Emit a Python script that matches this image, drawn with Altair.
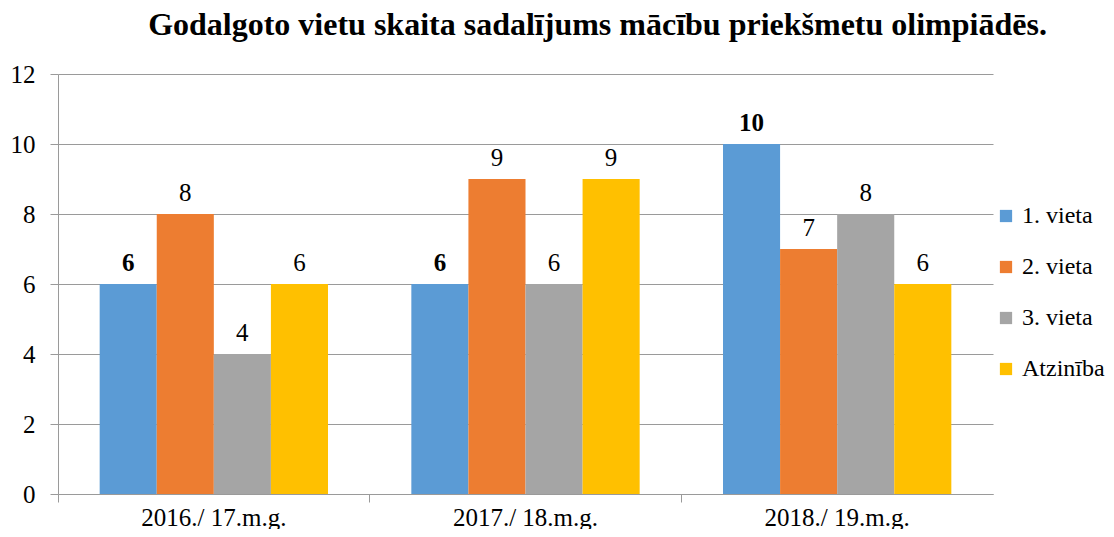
import altair as alt
import pandas as pd

years = ["2016./ 17.m.g.", "2017./ 18.m.g.", "2018./ 19.m.g."]
series = ["1. vieta", "2. vieta", "3. vieta", "Atzinība"]
v1 = [6, 6, 10]
v2 = [8, 9, 7]
v3 = [4, 6, 8]
v4 = [6, 9, 6]
colors = ["#5B9BD5", "#ED7D31", "#A5A5A5", "#FFC000"]

rows = []
for s, vals in zip(series, [v1, v2, v3, v4]):
    for y, v in zip(years, vals):
        rows.append({"year": y, "series": s, "value": v})
df = pd.DataFrame(rows)

FONT = "Times New Roman, Liberation Serif, DejaVu Serif, serif"
GRID = "#9a9a9a"

x = alt.X("year:N", sort=years, title=None,
          scale=alt.Scale(paddingInner=0, paddingOuter=0),
          axis=alt.Axis(labelAngle=0, labelFont=FONT, labelFontSize=25, labelColor="#000000",
                        bandPosition=0, tickColor=GRID, tickSize=8, domainColor=GRID,
                        labelPadding=3, grid=False))
xo = alt.XOffset("series:N", sort=series,
                 scale=alt.Scale(paddingOuter=0.73, paddingInner=0))
y = alt.Y("value:Q", title=None,
          scale=alt.Scale(domain=[0, 12]),
          axis=alt.Axis(values=[0, 2, 4, 6, 8, 10, 12], labelFont=FONT, labelFontSize=25,
                        labelColor="#000000", tickColor=GRID, tickSize=8, domainColor=GRID,
                        gridColor=GRID, labelPadding=15))

base = alt.Chart(df)
bars = base.mark_bar().encode(
    x=x, xOffset=xo, y=y,
    color=alt.Color("series:N", sort=series,
                    scale=alt.Scale(domain=series, range=colors),
                    legend=alt.Legend(title=None, orient="none", legendX=936, legendY=130,
                                      symbolType="square", symbolSize=150, symbolStrokeWidth=0,
                                      labelFont=FONT, labelFontSize=24, labelColor="#000000",
                                      rowPadding=27, labelOffset=4, labelLimit=200)),
)
txt_bold = base.mark_text(baseline="bottom", dy=-8, font=FONT, fontSize=25,
                          fontWeight="bold", color="#000000").encode(
    x=x, xOffset=xo, y=y, text="value:Q"
).transform_filter(alt.datum.series == "1. vieta")
txt_norm = base.mark_text(baseline="bottom", dy=-8, font=FONT, fontSize=25,
                          color="#000000").encode(
    x=x, xOffset=xo, y=y, text="value:Q"
).transform_filter(alt.datum.series != "1. vieta")

chart = alt.layer(bars, txt_bold, txt_norm).properties(
    width=935, height=420,
    padding={"left": 50, "top": 66, "right": 113, "bottom": 35},
    autosize=alt.AutoSizeParams(type="none"),
    title=alt.Title("Godalgoto vietu skaita sadalījums mācību priekšmetu olimpiādēs.",
                    font=FONT, fontSize=32, fontWeight="bold", color="#000000",
                    anchor="middle", dx=72, offset=20),
).configure_view(stroke=None).configure_axis(gridWidth=1)

chart.save("out.html", embed_options={"renderer": "svg", "actions": False})
